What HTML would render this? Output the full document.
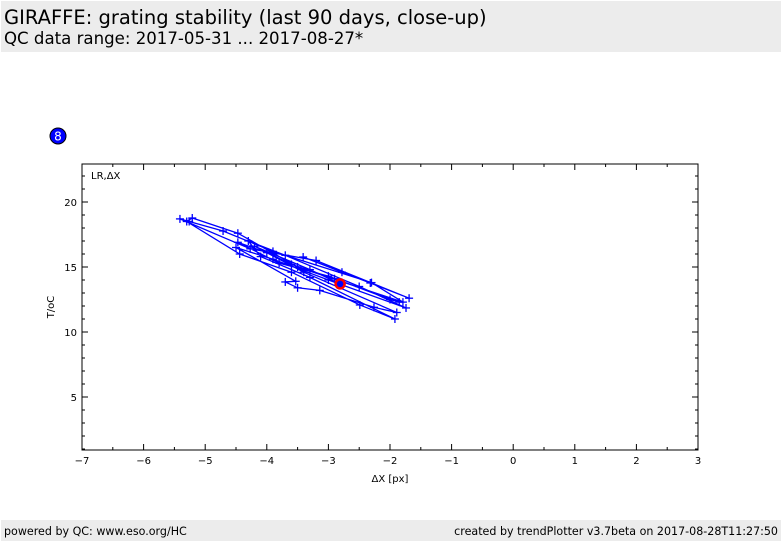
<!DOCTYPE html>
<html><head><meta charset="utf-8"><style>
body{margin:0;width:782px;height:542px;background:#fff;font-family:"DejaVu Sans",sans-serif;position:relative;overflow:hidden}
.hdr{position:absolute;left:1px;top:1px;width:780px;height:51px;background:#ececec}
.t1{position:absolute;left:3px;top:5px;font-size:19.5px;color:#000;white-space:nowrap}
.t2{position:absolute;left:3px;top:28px;font-size:16.6px;color:#000;white-space:nowrap}
.ftr{position:absolute;left:1px;top:520px;width:780px;height:21px;background:#ececec;font-size:11.1px}
.ftr span{position:absolute;top:5px;white-space:nowrap}
</style></head><body>
<div class="hdr">
<div class="t1">GIRAFFE: grating stability (last 90 days, close-up)</div>
<div class="t2">QC data range: 2017-05-31 ... 2017-08-27*</div>
</div>
<svg id="chart" width="782" height="542" style="position:absolute;left:0;top:0">
<circle cx="58" cy="136" r="8" fill="#0000ff" stroke="#000" stroke-width="1"/>
<text x="58" y="140.5" font-size="12" fill="#fff" text-anchor="middle" font-family="DejaVu Sans, sans-serif">8</text>
<rect x="82" y="164" width="616" height="286" fill="none" stroke="#000" stroke-width="1"/>
<text x="91" y="179" font-size="10" font-family="DejaVu Sans, sans-serif">LR,ΔX</text>
<text x="390" y="482" font-size="10" text-anchor="middle" font-family="DejaVu Sans, sans-serif">ΔX [px]</text>
<text x="54" y="307" font-size="10" text-anchor="middle" transform="rotate(-90 54 307)" font-family="DejaVu Sans, sans-serif">T/oC</text>
<g id="axes"></g><g id="marks"></g>
</svg>
<div class="ftr">
<span style="left:3px">powered by QC: www.eso.org/HC</span>
<span style="right:3px">created by trendPlotter v3.7beta on 2017-08-28T11:27:50</span>
</div>
<script>
const xTicks=[-7,-6,-5,-4,-3,-2,-1,0,1,2,3];
const yTicks=[5,10,15,20];
const dx=[-3.41,-2.78,-2.32,-1.69,-3.2,-4.27,-5.41,-5.26,-4.71,-3.9,-2.3,-1.79,-3.5,-4.47,-5.21,-5.3,-4.44,-3.6,-2.49,-1.92,-3.3,-4.1,-4.3,-3.7,-2.5,-1.74,-3.0,-3.9,-4.5,-3.53,-3.7,-3.5,-3.14,-2.26,-1.89,-3.4,-4.0,-4.47,-3.8,-3.0,-2.0,-1.85,-2.9,-3.6,-4.2,-3.3,-2.81];
const temp=[15.77,14.6,13.77,12.6,15.5,16.4,18.7,18.5,17.77,16.2,13.8,12.3,15.0,17.6,18.77,18.5,16.0,14.6,12.08,11.0,14.2,15.8,17.0,15.9,13.5,11.85,14.0,15.6,16.5,13.9,13.85,13.4,13.2,11.9,11.5,14.6,16.1,16.9,15.3,14.3,12.5,12.3,14.1,15.2,16.6,14.8,13.7];
const X=v=>82+(v+7)*61.6, Y=v=>462-v*13;
const NS='http://www.w3.org/2000/svg';
const ax=document.getElementById('axes'), mk=document.getElementById('marks');
function ln(g,x1,y1,x2,y2,c,w){const l=document.createElementNS(NS,'line');l.setAttribute('x1',x1);l.setAttribute('y1',y1);l.setAttribute('x2',x2);l.setAttribute('y2',y2);l.setAttribute('stroke',c);l.setAttribute('stroke-width',w);g.appendChild(l);return l;}
function tx(x,y,s,a){const t=document.createElementNS(NS,'text');t.setAttribute('x',x);t.setAttribute('y',y);t.setAttribute('font-size','10');t.setAttribute('text-anchor',a);t.setAttribute('font-family','DejaVu Sans, sans-serif');t.textContent=s;ax.appendChild(t);return t;}
xTicks.forEach((v,i)=>{const x=X(v);
 let a=ln(ax,x,450,x,444,'#000',1);
 let b=ln(ax,x,164,x,170,'#000',1);
 if(i<xTicks.length-1){const m=X(v+0.5);ln(ax,m,450,m,447,'#000',1);ln(ax,m,164,m,167,'#000',1);}
 const t=tx(x,464,(v<0?'\u2212'+(-v):''+v),'middle');});
yTicks.forEach(v=>{const y=Y(v);
 let a=ln(ax,82,y,88,y,'#000',1);
 ln(ax,698,y,692,y,'#000',1);
 const t=tx(77,y+4,''+v,'end');});
for(let v=1;v<=22;v++){if(v%5===0)continue;const y=Y(v);ln(ax,82,y,85,y,'#000',1);ln(ax,698,y,695,y,'#000',1);}
const pl=document.createElementNS(NS,'polyline');
pl.setAttribute('points',dx.map((v,i)=>X(v)+','+Y(temp[i])).join(' '));
pl.setAttribute('fill','none');pl.setAttribute('stroke','#0000ff');pl.setAttribute('stroke-width','1.3');


mk.appendChild(pl);
dx.forEach((v,i)=>{const x=X(v),y=Y(temp[i]);
 const h=ln(mk,x-4,y,x+4,y,'#0000ff',1.3);
 
 
 ln(mk,x,y-4,x,y+4,'#0000ff',1.3);});
const c=document.createElementNS(NS,'circle');
c.setAttribute('cx',X(dx[dx.length-1]));c.setAttribute('cy',Y(temp[temp.length-1]));c.setAttribute('r','4.5');
c.setAttribute('fill','#0000ff');c.setAttribute('stroke','#ff0000');c.setAttribute('stroke-width','2.5');


mk.appendChild(c);
</script>
</body></html>
